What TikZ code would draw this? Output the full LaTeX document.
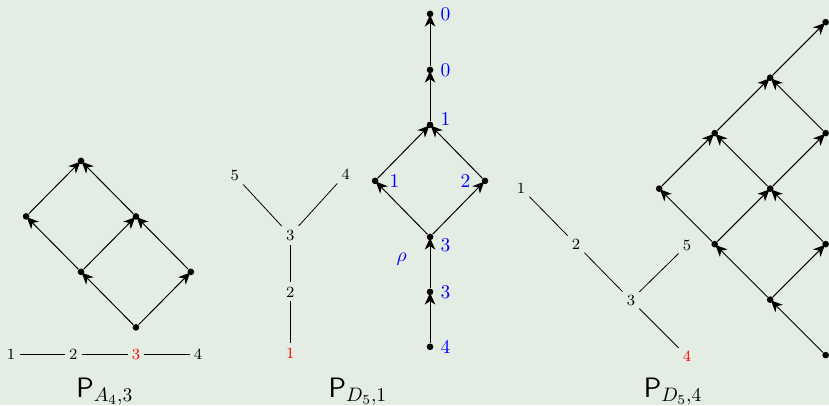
\documentclass[tikz,border=0pt]{standalone}
\usepackage{amsmath,amssymb}
\usepackage{tikz}
\usetikzlibrary{positioning,arrows.meta,calc}
\definecolor{bgpaper}{RGB}{228,237,228}

\begin{document}
\begin{tikzpicture}[
  vtx/.style={circle, fill=black, inner sep=0pt, minimum size=3.4pt},
  dyn/.style={font=\footnotesize, inner sep=2pt},
  arr/.style={-{Stealth[length=6pt,width=5.4pt,inset=1.8pt]}, line width=0.5pt, shorten >=-1.4pt},
  blab/.style={text=blue, font=\normalsize},
  title/.style={font=\Large, anchor=base}
]

% Background
\fill[bgpaper] (0,0) rectangle (14.94,7.30);
\useasboundingbox (0,0) rectangle (14.94,7.30);

% Poset for A_4, node 3
\node[vtx] (a0) at (2.45,1.40) {};
\node[vtx] (a1) at (1.46,2.40) {};
\node[vtx] (a2) at (3.44,2.40) {};
\node[vtx] (a3) at (0.47,3.40) {};
\node[vtx] (a4) at (2.45,3.40) {};
\node[vtx] (a5) at (1.46,4.40) {};

\draw[arr] (a0) -- (a1);
\draw[arr] (a0) -- (a2);
\draw[arr] (a1) -- (a3);
\draw[arr] (a1) -- (a4);
\draw[arr] (a2) -- (a4);
\draw[arr] (a3) -- (a5);
\draw[arr] (a4) -- (a5);

% Dynkin diagram A_4
\node[dyn] (p1) at (0.20,0.92) {1};
\node[dyn] (p2) at (1.32,0.92) {2};
\node[dyn, text=red] (p3) at (2.45,0.92) {3};
\node[dyn] (p4) at (3.57,0.92) {4};
\draw (p1) -- (p2) -- (p3) -- (p4);

\node[title] (tA) at (1.89,0.14) {$\mathsf{P}_{A_4,3}$};

% Dynkin diagram D_5, node 1
\node[dyn] (d5) at (4.23,4.14) {5};
\node[dyn] (d4) at (6.23,4.16) {4};
\node[dyn] (d3) at (5.23,3.06) {3};
\node[dyn] (d2) at (5.23,2.04) {2};
\node[dyn, text=red] (d1) at (5.23,0.94) {1};
\draw (d5) -- (d3);
\draw (d4) -- (d3);
\draw (d3) -- (d2) -- (d1);

% Poset for D_5, node 1 (with weights)
\node[vtx, label={[blab]right:$4$}] (m0) at (7.75,1.05) {};
\node[vtx, label={[blab]right:$3$}] (m1) at (7.75,2.04) {};
\node[vtx, label={[blab,yshift=-4pt]right:$3$}] (m2) at (7.75,3.03) {};
\node[vtx, label={[blab,label distance=2pt]right:$1$}] (m3) at (6.76,4.04) {};
\node[vtx, label={[blab,label distance=2pt]left:$2$}] (m4) at (8.74,4.04) {};
\node[vtx, label={[blab,yshift=3pt]right:$1$}] (m5) at (7.75,5.05) {};
\node[vtx, label={[blab]right:$0$}] (m6) at (7.75,6.04) {};
\node[vtx, label={[blab]right:$0$}] (m7) at (7.75,7.05) {};
\node[blab] (rho) at (7.24,2.62) {$\rho$};

\draw[arr] (m0) -- (m1);
\draw[arr] (m1) -- (m2);
\draw[arr] (m2) -- (m3);
\draw[arr] (m2) -- (m4);
\draw[arr] (m3) -- (m5);
\draw[arr] (m4) -- (m5);
\draw[arr] (m5) -- (m6);
\draw[arr] (m6) -- (m7);

\node[title] (tB) at (6.45,0.14) {$\mathsf{P}_{D_5,1}$};

% Dynkin diagram D_5, node 4
\node[dyn] (e1) at (9.39,3.91) {1};
\node[dyn] (e2) at (10.38,2.90) {2};
\node[dyn] (e3) at (11.37,1.89) {3};
\node[dyn] (e5) at (12.38,2.88) {5};
\node[dyn, text=red] (e4) at (12.38,0.88) {4};
\draw (e1) -- (e2) -- (e3);
\draw (e3) -- (e5);
\draw (e3) -- (e4);

% Poset for D_5, node 4
\node[vtx] (h0) at (14.88,0.90) {};
\node[vtx] (h1) at (13.88,1.90) {};
\node[vtx] (h2) at (14.88,2.90) {};
\node[vtx] (h3) at (12.88,2.90) {};
\node[vtx] (h4) at (13.88,3.90) {};
\node[vtx] (h5) at (11.88,3.90) {};
\node[vtx] (h6) at (14.88,4.90) {};
\node[vtx] (h7) at (12.88,4.90) {};
\node[vtx] (h8) at (13.88,5.90) {};
\node[vtx] (h9) at (14.88,6.90) {};

\draw[arr] (h0) -- (h1);
\draw[arr] (h1) -- (h2);
\draw[arr] (h1) -- (h3);
\draw[arr] (h2) -- (h4);
\draw[arr] (h3) -- (h4);
\draw[arr] (h3) -- (h5);
\draw[arr] (h4) -- (h6);
\draw[arr] (h4) -- (h7);
\draw[arr] (h5) -- (h7);
\draw[arr] (h6) -- (h8);
\draw[arr] (h7) -- (h8);
\draw[arr] (h8) -- (h9);

\node[title] (tC) at (12.13,0.14) {$\mathsf{P}_{D_5,4}$};

\end{tikzpicture}
\end{document}
